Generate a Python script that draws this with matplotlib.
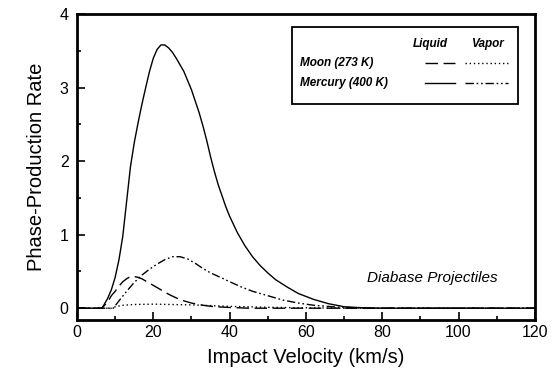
import numpy as np
import matplotlib
matplotlib.use('Agg')
import matplotlib.pyplot as plt
from matplotlib.patches import Rectangle
from matplotlib.ticker import MultipleLocator

plt.rcParams['font.family'] = ['Liberation Sans', 'DejaVu Sans']

# Mercury (400 K), liquid
merc_liq_v = [0, 6.5, 7, 8, 9, 10, 11, 12, 13, 14, 15, 16, 17, 18, 19, 20, 21, 22, 23, 24, 25,
              26, 28, 30, 32, 33, 34, 35, 36, 37, 38, 39, 40, 42, 44, 46, 48, 50, 52, 55, 58, 62,
              66, 70, 75, 80, 120]
merc_liq_y = [0, 0, 0.04, 0.13, 0.25, 0.42, 0.66, 0.98, 1.45, 1.92, 2.25, 2.52, 2.77, 3.0, 3.22, 3.4, 3.52, 3.58, 3.58, 3.54, 3.48,
              3.40, 3.22, 2.97, 2.66, 2.48, 2.28, 2.06, 1.86, 1.68, 1.53, 1.38, 1.25, 1.03, 0.85, 0.7, 0.58, 0.48, 0.39, 0.29, 0.2, 0.12,
              0.06, 0.02, 0.005, 0, 0]

# Mercury (400 K), vapor
merc_vap_v = [0, 9.5, 11, 13, 15, 17, 19, 21, 23, 25, 27, 29, 31, 33, 35, 38, 40, 43, 46, 50,
              54, 58, 62, 68, 75, 120]
merc_vap_y = [0, 0, 0.1, 0.23, 0.35, 0.45, 0.53, 0.6, 0.66, 0.7, 0.7, 0.67, 0.61, 0.54, 0.48, 0.41, 0.36, 0.29, 0.23, 0.17,
              0.11, 0.07, 0.04, 0.015, 0, 0]

# Moon (273 K), liquid
moon_liq_v = [0, 6.5, 8, 9, 10, 11, 12, 13, 14, 15, 16, 17, 18, 19, 20, 22, 24, 26, 28, 30,
              33, 36, 40, 45, 120]
moon_liq_y = [0, 0, 0.08, 0.17, 0.23, 0.3, 0.36, 0.4, 0.43, 0.43, 0.42, 0.4, 0.37, 0.34, 0.31, 0.25, 0.19, 0.14, 0.1, 0.07,
              0.04, 0.02, 0.01, 0, 0]

# Moon (273 K), vapor
moon_vap_v = [0, 9, 10, 12, 15, 20, 25, 30, 35, 40, 50, 60, 70, 120]
moon_vap_y = [0, 0, 0.02, 0.04, 0.05, 0.055, 0.05, 0.045, 0.035, 0.025, 0.012, 0.005, 0, 0]

x_ticks = [0, 20, 40, 60, 80, 100, 120]
y_ticks = [0, 1, 2, 3, 4]

dash_long = (0, (9, 4))
dot = (0, (1, 2))
dash_dot_dot = (0, (6, 2, 1.2, 2, 1.2, 2))

fig = plt.figure(figsize=(5.56, 3.80), dpi=100)
ax = fig.add_axes([0.1385, 0.158, 0.8235, 0.805])

ax.plot(merc_liq_v, merc_liq_y, color='black', lw=1.0, ls='-')
ax.plot(merc_vap_v, merc_vap_y, color='black', lw=1.0, ls=dash_dot_dot)
ax.plot(moon_liq_v, moon_liq_y, color='black', lw=1.0, ls=dash_long)
ax.plot(moon_vap_v, moon_vap_y, color='black', lw=1.0, ls=dot)

ax.set_xlim(0, 120)
ax.set_ylim(-0.16, 4)
ax.set_xticks(x_ticks)
ax.set_yticks(y_ticks)
ax.xaxis.set_minor_locator(MultipleLocator(10))
ax.yaxis.set_minor_locator(MultipleLocator(0.5))
ax.tick_params(which='both', direction='in', width=1.2, labelsize=11.5)
ax.tick_params(which='major', length=6)
ax.tick_params(which='minor', length=3)
ax.tick_params(axis='y', pad=6)
for s in ax.spines.values():
    s.set_linewidth(2)

ax.set_xlabel('Impact Velocity (km/s)', fontsize=14.5, labelpad=6)
ax.set_ylabel('Phase-Production Rate', fontsize=14.5, labelpad=10)

# legend box drawn by hand
ax.add_patch(Rectangle((0.469, 0.706), 0.494, 0.252, transform=ax.transAxes,
                       fill=False, lw=1.3, color='black'))
lkw = dict(transform=ax.transAxes, fontsize=8.5, style='italic', fontweight='bold')
ax.text(0.771, 0.902, 'Liquid', ha='center', va='center', **lkw)
ax.text(0.897, 0.902, 'Vapor', ha='center', va='center', **lkw)
ax.text(0.487, 0.841, 'Moon (273 K)', ha='left', va='center', **lkw)
ax.text(0.487, 0.775, 'Mercury (400 K)', ha='left', va='center', **lkw)
ax.plot([0.760, 0.825], [0.841, 0.841], transform=ax.transAxes, color='black', lw=1.0, ls=dash_long)
ax.plot([0.847, 0.941], [0.841, 0.841], transform=ax.transAxes, color='black', lw=1.0, ls=dot)
ax.plot([0.760, 0.825], [0.775, 0.775], transform=ax.transAxes, color='black', lw=1.0, ls='-')
ax.plot([0.847, 0.941], [0.775, 0.775], transform=ax.transAxes, color='black', lw=1.0, ls=dash_dot_dot)

ax.text(0.775, 0.137, 'Diabase Projectiles', transform=ax.transAxes, ha='center', va='center',
        fontsize=11, style='italic')

fig.savefig('out.png', dpi=100)
